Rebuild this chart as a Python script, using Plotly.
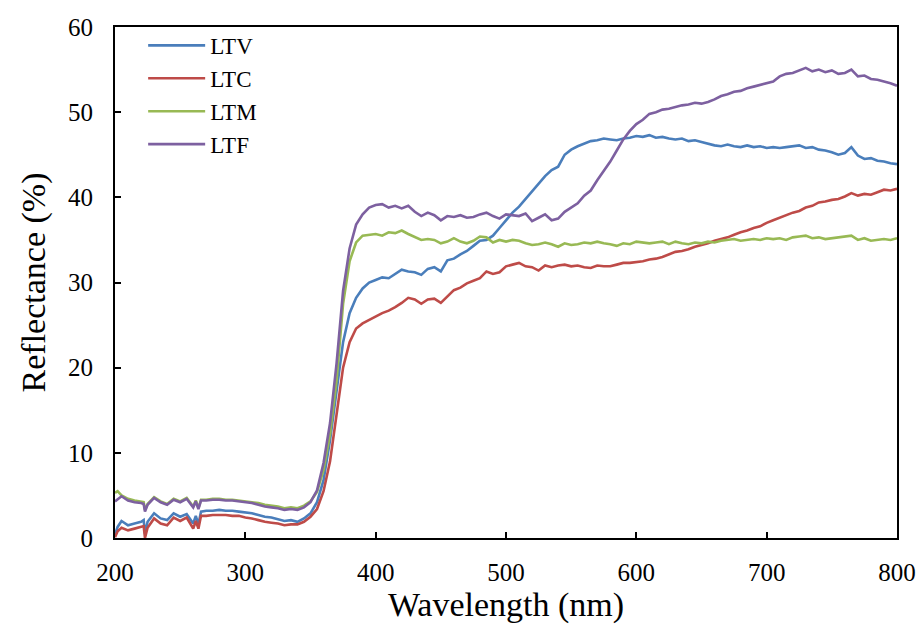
import plotly.graph_objects as go

wavelength = [200, 202, 205, 210, 215, 220, 222, 223, 225, 230, 235, 240, 245, 250, 255, 260, 262, 264, 266] + list(range(270, 805, 5))

ltv = [0.4, 1.3, 2.0, 1.5, 1.7, 1.9, 2.1, 0.5, 1.9, 2.9, 2.3, 2.1, 2.9, 2.5, 2.8, 1.7, 2.6, 1.6, 3.1,
       3.2, 3.2, 3.3, 3.2, 3.2, 3.1, 3.0, 2.9, 2.7, 2.5, 2.4, 2.2, 2.0, 2.1, 1.9, 2.3, 2.9, 4.2, 6.8, 11.5,
       17.0, 23.0, 26.4, 28.2, 29.3, 30.0, 30.3, 30.6, 30.5, 31.0, 31.5, 31.3, 31.2, 30.9, 31.6, 31.8, 31.3,
       32.6, 32.8, 33.3, 33.7, 34.3, 34.9, 35.0, 35.5, 36.4, 37.3, 38.2, 38.9, 39.8, 40.6, 41.5, 42.5, 43.2,
       43.6, 45.0, 45.6, 46.0, 46.3, 46.6, 46.7, 46.9, 46.8, 46.7, 46.9, 47.0, 47.2, 47.1, 47.3, 47.0, 47.1,
       46.9, 46.8, 46.9, 46.6, 46.7, 46.5, 46.3, 46.1, 46.0, 46.2, 46.0, 45.9, 46.1, 45.9, 46.0, 45.8, 45.9,
       45.8, 45.9, 46.0, 46.1, 45.8, 45.9, 45.6, 45.5, 45.3, 45.0, 45.2, 45.9, 44.9, 44.5, 44.6, 44.3, 44.2,
       44.0, 43.9]

ltc = [0.1, 0.8, 1.2, 0.9, 1.1, 1.3, 1.4, 0.0, 1.2, 2.3, 1.7, 1.5, 2.4, 2.0, 2.4, 1.1, 2.0, 1.1, 2.6,
       2.6, 2.7, 2.7, 2.7, 2.6, 2.6, 2.4, 2.3, 2.1, 1.9, 1.8, 1.7, 1.5, 1.6, 1.6, 1.9, 2.5, 3.4, 5.5, 9.0,
       14.5, 20.0, 23.0, 24.6, 25.2, 25.6, 26.1, 26.4, 26.7, 27.1, 27.6, 28.2, 28.0, 27.5, 28.0, 28.1, 27.6,
       28.3, 29.1, 29.4, 29.9, 30.2, 30.5, 31.3, 31.0, 31.2, 31.9, 32.1, 32.3, 31.9, 31.8, 31.4, 32.0, 31.8,
       32.0, 32.1, 31.9, 32.0, 31.8, 31.7, 32.0, 31.9, 31.9, 32.1, 32.3, 32.3, 32.4, 32.5, 32.7, 32.8, 33.0,
       33.3, 33.6, 33.7, 33.9, 34.2, 34.4, 34.6, 34.9, 35.1, 35.3, 35.6, 35.9, 36.1, 36.4, 36.6, 37.0, 37.3,
       37.6, 37.9, 38.2, 38.4, 38.8, 39.0, 39.4, 39.5, 39.7, 39.8, 40.1, 40.5, 40.2, 40.4, 40.3, 40.6, 40.9,
       40.8, 41.0]

ltm = [5.3, 5.5, 5.0, 4.6, 4.4, 4.3, 4.2, 3.3, 4.0, 4.8, 4.3, 4.0, 4.6, 4.3, 4.7, 3.7, 4.4, 3.5, 4.5,
       4.5, 4.6, 4.6, 4.5, 4.5, 4.4, 4.3, 4.2, 4.1, 3.9, 3.8, 3.7, 3.5, 3.6, 3.5, 3.8, 4.3, 5.4, 8.0, 12.2,
       18.5, 27.5, 32.5, 34.7, 35.5, 35.6, 35.7, 35.5, 35.9, 35.8, 36.1, 35.7, 35.3, 35.0, 35.1, 35.0, 34.6,
       34.8, 35.2, 34.8, 34.6, 34.9, 35.4, 35.3, 34.7, 35.0, 34.8, 35.0, 34.9, 34.6, 34.4, 34.5, 34.7, 34.5,
       34.2, 34.6, 34.4, 34.5, 34.7, 34.6, 34.8, 34.6, 34.5, 34.3, 34.6, 34.5, 34.8, 34.7, 34.6, 34.7, 34.8,
       34.5, 34.8, 34.6, 34.5, 34.7, 34.6, 34.8, 34.7, 34.9, 35.0, 35.1, 34.9, 35.0, 35.1, 35.0, 35.2, 35.1,
       35.2, 35.0, 35.3, 35.4, 35.5, 35.2, 35.3, 35.1, 35.2, 35.3, 35.4, 35.5, 35.0, 35.2, 34.9, 35.0, 35.1,
       35.0, 35.2]

ltf = [4.3, 4.5, 4.9, 4.4, 4.2, 4.1, 4.0, 3.1, 3.9, 4.7, 4.2, 3.9, 4.5, 4.2, 4.6, 3.6, 4.3, 3.4, 4.4,
       4.4, 4.5, 4.5, 4.4, 4.4, 4.3, 4.2, 4.1, 3.9, 3.7, 3.6, 3.5, 3.3, 3.4, 3.3, 3.6, 4.2, 5.6, 8.8, 13.5,
       20.5, 29.0, 34.0, 36.8, 38.0, 38.8, 39.1, 39.2, 38.8, 39.0, 38.7, 39.0, 38.3, 37.8, 38.2, 37.9, 37.3,
       37.8, 37.7, 37.9, 37.6, 37.7, 38.0, 38.2, 37.8, 37.5, 38.0, 37.9, 37.8, 38.1, 37.2, 37.6, 38.0, 37.3,
       37.5, 38.3, 38.8, 39.3, 40.2, 40.8, 42.0, 43.1, 44.2, 45.5, 46.8, 47.8, 48.6, 49.1, 49.8, 50.0, 50.3,
       50.4, 50.6, 50.8, 50.9, 51.1, 51.0, 51.2, 51.5, 51.9, 52.1, 52.4, 52.5, 52.8, 53.0, 53.2, 53.4, 53.6,
       54.2, 54.5, 54.6, 54.9, 55.2, 54.8, 55.0, 54.7, 54.9, 54.5, 54.6, 55.0, 54.2, 54.3, 53.9, 53.8, 53.6,
       53.4, 53.1]

series_names = ["LTV", "LTC", "LTM", "LTF"]
series_values = [ltv, ltc, ltm, ltf]
colors = ["#4A7EBB", "#BE4B48", "#98B954", "#7D60A0"]

FONT = "Liberation Serif, Times New Roman, serif"

fig = go.Figure()
for name, vals, col in zip(series_names, series_values, colors):
    fig.add_trace(go.Scatter(x=wavelength, y=vals, mode="lines", name=name,
                             line=dict(color=col, width=2.6)))

axis_common = dict(showline=True, linecolor="black", linewidth=2, mirror=True,
                   ticks="inside", ticklen=6, tickwidth=2, tickcolor="black",
                   showgrid=False, zeroline=False,
                   tickfont=dict(family=FONT, size=25, color="black"))

fig.update_xaxes(range=[200, 800], dtick=100, tick0=200,
                 title=dict(text="Wavelength (nm)", font=dict(family=FONT, size=34, color="black"), standoff=11),
                 ticklabelstandoff=11, **axis_common)
fig.update_yaxes(range=[0, 60], dtick=10, tick0=0,
                 title=dict(text="Reflectance (%)", font=dict(family=FONT, size=34, color="black"), standoff=12),
                 ticklabelstandoff=15, **axis_common)

fig.update_layout(
    width=919, height=624,
    margin=dict(l=115, r=22, t=27, b=86, autoexpand=False),
    paper_bgcolor="white", plot_bgcolor="white",
    showlegend=True,
    legend=dict(x=0.036, y=1.006, xanchor="left", yanchor="top",
                bgcolor="rgba(0,0,0,0)", borderwidth=0,
                font=dict(family=FONT, size=23, color="black"),
                itemwidth=57, tracegroupgap=0),
)

# remove the browser's default 8px page margin so the figure fills the window exactly
fig.write_html("out.html",
               config={"displayModeBar": False},
               post_script="document.body.style.margin='0';document.body.style.overflow='hidden';")
